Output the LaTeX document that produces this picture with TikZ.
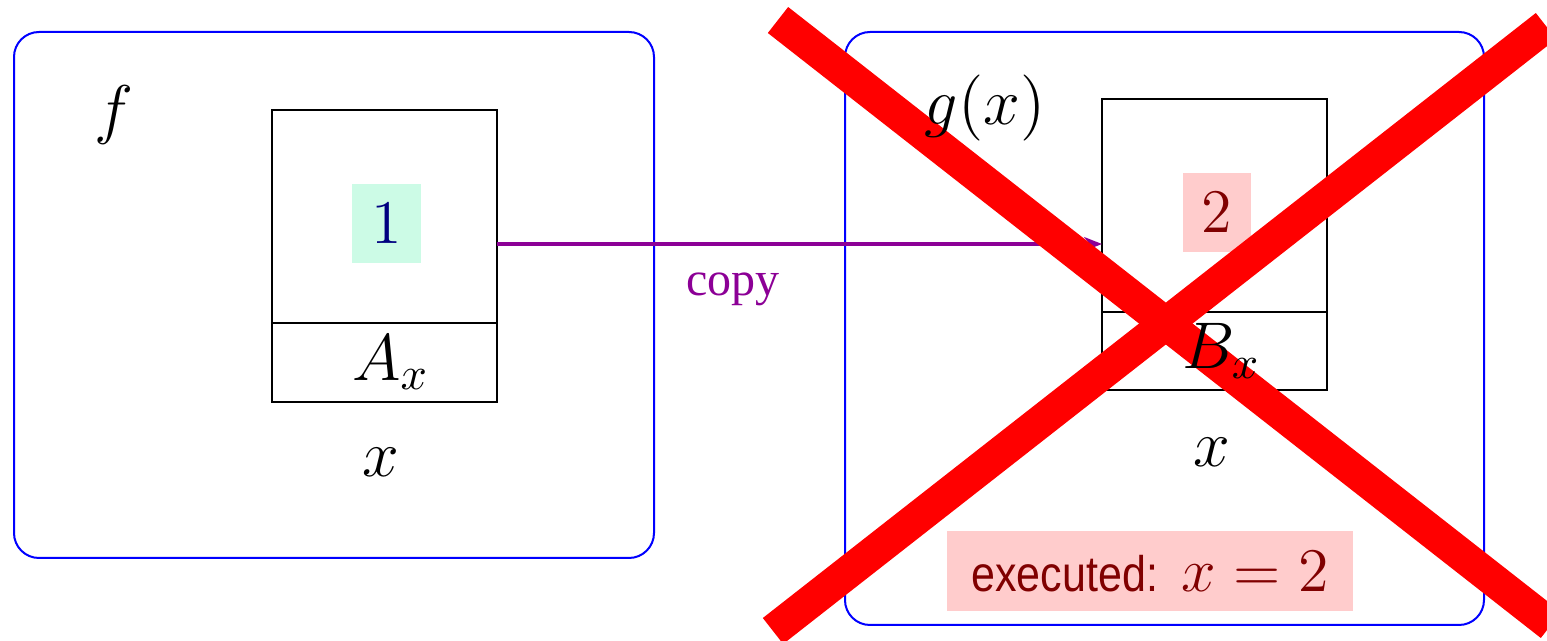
\RequirePackage{fix-cm}
\documentclass[tikz,border=0pt]{standalone}
\usepackage{fontspec}
\newfontfamily\copyfont{Liberation Serif}
\newfontfamily\execfont[FakeStretch=0.86]{Liberation Sans}
\usetikzlibrary{arrows.meta}
\definecolor{frameblue}{RGB}{0,0,255}
\definecolor{mintbg}{HTML}{CCFBE6}
\definecolor{navytext}{HTML}{000080}
\definecolor{pinkbg}{HTML}{FFCCCC}
\definecolor{maroontext}{HTML}{800000}
\definecolor{copyviolet}{RGB}{140,0,150}
\definecolor{crossred}{RGB}{255,0,0}
\tikzset{
  frame/.style={draw=frameblue, line width=0.5pt, rounded corners=6.25pt, inner sep=0pt, outer sep=0pt},
  cell/.style={draw=black, line width=0.5pt, minimum width=56.25pt, inner sep=0pt, outer sep=0pt},
  mathtxt/.style={font=\fontsize{16.5}{19}\selectfont, inner sep=0pt},
  valbox/.style={font=\fontsize{15.5}{18}\selectfont, minimum height=19.75pt, inner sep=0pt},
  crossline/.style={draw=crossred, line width=8.25pt},
}
\begin{document}
\begin{tikzpicture}[x=0.25pt, y=-0.25pt]
\useasboundingbox (0,0) rectangle (1547,641);
% frames
\node[frame, minimum width=160pt, minimum height=131.5pt] (F) at (334,295) {};
\node[frame, minimum width=159.75pt, minimum height=148.25pt] (G) at (1164.5,328.5) {};
% cells
\node[cell, minimum height=53.25pt] (Aup) at (384.5,216.5) {};
\node[cell, minimum height=19.75pt] (Alow) at (384.5,362.5) {};
\node[cell, minimum height=53.25pt] (Bup) at (1214.5,205.5) {};
\node[cell, minimum height=19.5pt] (Blow) at (1214.5,351) {};
% values
\node[valbox, fill=mintbg, minimum width=17.25pt, text=navytext] (v1) at (386.5,223.5) {$1$};
\node[valbox, fill=pinkbg, minimum width=17pt, text=maroontext] (v2) at (1217,212.5) {$2$};
\node[valbox, fill=pinkbg, minimum width=101.5pt, minimum height=20pt, text=maroontext] (ex) at (1150,571.5)
  {{\execfont\fontsize{12.5}{15}\selectfont executed:}\hspace{6pt}$x=2$};
% copy arrow
\coordinate (arrowlevel) at (0,244);
\draw[copyviolet, line width=0.85pt, -{Stealth[length=4.5pt,width=3.5pt]}] (Aup.east |- arrowlevel) --
  node[pos=0.39, yshift=-11.25pt, font=\copyfont\fontsize{12}{14}\selectfont, text=copyviolet, inner sep=0pt] (cp) {copy}
  (Bup.west |- arrowlevel);
% cross
\draw[crossline] (778,20) -- (1551,625);
\draw[crossline] (1546,26) -- (773,631);
% texts
\node[mathtxt] (tf) at (114,115) {$f$};
\node[mathtxt, xshift=1.5pt] (tAx) at (Alow) {$A_x$};
\node[mathtxt] (tx1) at (381,462) {$x$};
\node[mathtxt] (tg) at (985,108) {$g(x)$};
\node[mathtxt, xshift=1.75pt] (tBx) at (Blow) {$B_x$};
\node[mathtxt] (tx2) at (1212,452) {$x$};
\end{tikzpicture}
\end{document}
